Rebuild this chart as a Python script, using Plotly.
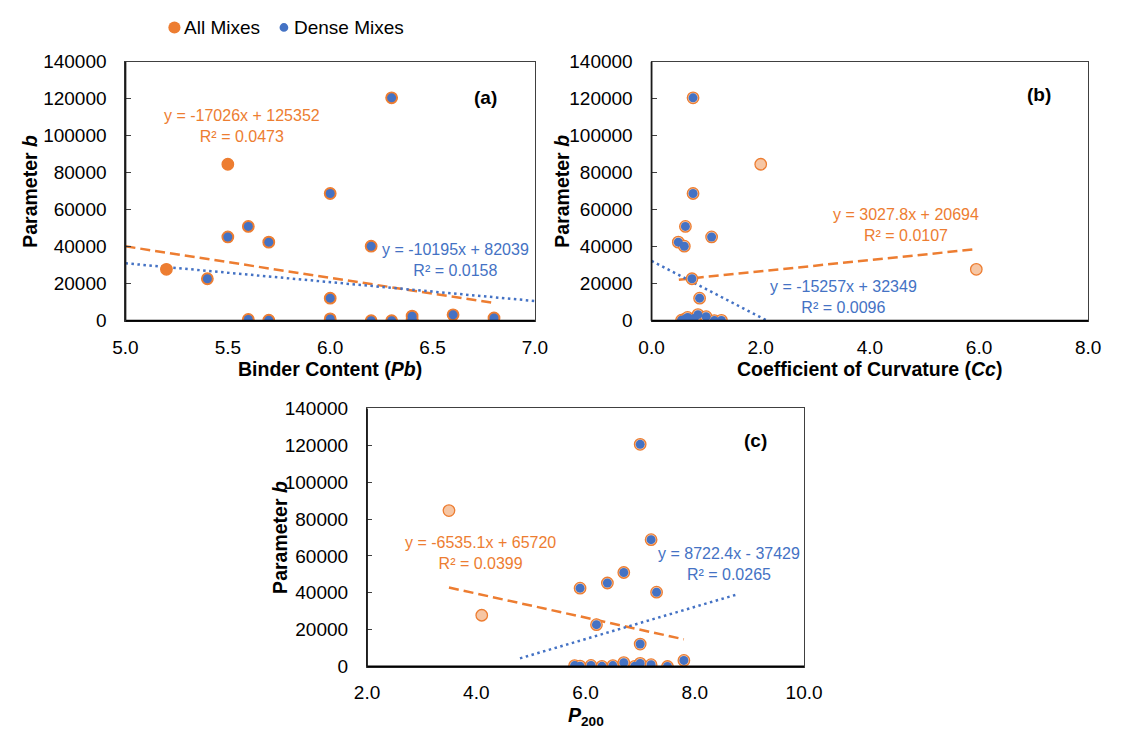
import plotly.graph_objects as go

ORANGE = "#ED7D31"
BLUE = "#4472C4"
PEACH = "#F6C6A4"

# ---------------- data ----------------
# Panel (a): binder content Pb
pb_dense = [5.4, 5.5, 5.6, 5.6, 5.7, 5.7, 6.0, 6.0, 6.0, 6.2, 6.2, 6.3, 6.3, 6.4, 6.4, 6.4, 6.4, 6.6, 6.8]
b_dense_a = [22700, 45300, 51000, 700, 42500, 300, 68800, 12200, 1000, 40300, 0, 120500, 0, 2500, 800, 0, 0, 3200, 1500]
pb_open = [5.5, 5.2]
b_open = [84600, 27800]

# Panel (b): coefficient of curvature Cc
cc_dense = [0.76, 0.76, 0.62, 1.10, 0.49, 0.60, 0.74, 0.88,
            0.55, 0.58, 0.62, 0.66, 0.69, 0.75, 0.78, 0.85, 1.00, 1.15, 1.28]
b_dense_b = [120500, 68800, 51000, 45300, 42500, 40300, 22700, 12200,
             300, 0, 1000, 1800, 500, 0, 1200, 3300, 2200, 100, 200]
cc_open = [2.0, 5.95]

# Panel (c): P200
p200_dense = [7.0, 7.2, 6.7, 6.4, 5.9, 7.3, 6.2, 7.0,
              5.8, 5.9, 6.1, 6.3, 6.5, 6.7, 6.9, 7.0, 7.2, 7.5, 7.8]
b_dense_c = [120500, 68800, 51000, 45300, 42500, 40300, 22700, 12200,
             500, 200, 600, 100, 500, 2100, 100, 1700, 1000, 0, 3300]
p200_open = [3.5, 4.1]

# Trendlines (slope, intercept, x-range) as printed on the chart
trend_all = {"a": (-17026, 125352, [5.0, 6.8]), "b": (3027.8, 20694, [0.5, 5.95]), "c": (-6535.1, 65720, [3.5, 7.8])}
trend_dense = {"a": (-10195, 82039, [5.0, 7.0]), "b": (-15257, 32349, [0.0, 2.12]), "c": (8722.4, -37429, [4.8, 8.8])}
eq_all = {"a": ("y = -17026x + 125352", "R² = 0.0473"), "b": ("y = 3027.8x + 20694", "R² = 0.0107"), "c": ("y = -6535.1x + 65720", "R² = 0.0399")}
eq_dense = {"a": ("y = -10195x + 82039", "R² = 0.0158"), "b": ("y = -15257x + 32349", "R² = 0.0096"), "c": ("y = 8722.4x - 37429", "R² = 0.0265")}

legend_labels = ["All Mixes", "Dense Mixes"]
y_title = "<b>Parameter <i>b</i></b>"
x_titles = {"a": "<b>Binder Content (<i>Pb</i>)</b>",
            "b": "<b>Coefficient of Curvature (<i>Cc</i>)</b>",
            "c": "<b><i>P</i><sub>200</sub></b>"}

FONT = "Liberation Sans, Arial, sans-serif"
W, H = 1125, 740

fig = go.Figure()

panels = [
    ("a", "x", "y", pb_dense, b_dense_a, pb_open, ORANGE),
    ("b", "x2", "y2", cc_dense, b_dense_b, cc_open, PEACH),
    ("c", "x3", "y3", p200_dense, b_dense_c, p200_open, PEACH),
]

for key, xa, ya, xd, yd, xo, open_fill in panels:
    m, c, xr = trend_all[key]
    fig.add_trace(go.Scatter(x=xr, y=[m * v + c for v in xr], mode="lines", xaxis=xa, yaxis=ya,
                             line=dict(color=ORANGE, width=2.5, dash="10px,5px"), showlegend=False, hoverinfo="skip"))
    m, c, xr = trend_dense[key]
    fig.add_trace(go.Scatter(x=xr, y=[m * v + c for v in xr], mode="lines", xaxis=xa, yaxis=ya,
                             line=dict(color=BLUE, width=2.5, dash="2.5px,3.5px"), showlegend=False, hoverinfo="skip"))
    fig.add_trace(go.Scatter(x=list(xo) + list(xd), y=list(b_open) + list(yd), mode="markers",
                             xaxis=xa, yaxis=ya, name=legend_labels[0], showlegend=False,
                             marker=dict(size=11.5, color=open_fill, line=dict(color=ORANGE, width=1.3))))
    fig.add_trace(go.Scatter(x=xd, y=yd, mode="markers", xaxis=xa, yaxis=ya, name=legend_labels[1],
                             showlegend=False, marker=dict(size=9, color=BLUE)))

axis_common = dict(showgrid=False, zeroline=False, showline=True, mirror=True, linecolor="#404040",
                   linewidth=1.2, tickfont=dict(family=FONT, size=19, color="#000"), ticks="")
yaxis_common = dict(axis_common, range=[0, 140000], dtick=20000, tickformat="d", ticks="inside",
                    ticklen=5, tickcolor="#404040", tickwidth=1, ticklabelstandoff=14)
xaxis_common = dict(axis_common, tickformat=".1f", ticklabelstandoff=9)

dom = {"a": ([0.1028, 0.4771], [0.5678, 0.928]),
       "b": ([0.5837, 0.9828], [0.5678, 0.928]),
       "c": ([0.3236, 0.7231], [0.0869, 0.4459])}

fig.update_layout(
    width=W, height=H, margin=dict(l=0, r=0, t=0, b=0),
    plot_bgcolor="white", paper_bgcolor="white",
    font=dict(family=FONT, size=19, color="#000"),
    showlegend=False,
    xaxis=dict(xaxis_common, domain=dom["a"][0], anchor="y", range=[5.0, 7.0], dtick=0.5),
    yaxis=dict(yaxis_common, domain=dom["a"][1], anchor="x"),
    xaxis2=dict(xaxis_common, domain=dom["b"][0], anchor="y2", range=[0, 8], dtick=2),
    yaxis2=dict(yaxis_common, domain=dom["b"][1], anchor="x2"),
    xaxis3=dict(xaxis_common, domain=dom["c"][0], anchor="y3", range=[2, 10], dtick=2),
    yaxis3=dict(yaxis_common, domain=dom["c"][1], anchor="x3"),
)

axes_of = {"a": ("x", "y"), "b": ("x2", "y2"), "c": ("x3", "y3")}

# thicker left and bottom axis lines
for xa, ya in axes_of.values():
    fig.add_shape(type="line", xref=xa + " domain", yref=ya + " domain", x0=0, x1=1, y0=0, y1=0,
                  line=dict(color="#000", width=2.2), layer="above")
    fig.add_shape(type="line", xref=xa + " domain", yref=ya + " domain", x0=0, x1=0, y0=0, y1=1,
                  line=dict(color="#1a1a1a", width=1.8), layer="above")

# axis titles (pixel positions from the reference layout)
ytitle_x = {"a": 18, "b": 565, "c": 275}
xtitle_y = {"a": 369, "b": 369, "c": 727}
for key in ["a", "b", "c"]:
    xdom, ydom = dom[key]
    fig.add_annotation(x=ytitle_x[key] / W, y=(ydom[0] + ydom[1]) / 2, xref="paper", yref="paper",
                       text=y_title, textangle=-90, showarrow=False, xanchor="center", yanchor="middle",
                       font=dict(family=FONT, size=19.5, color="#000"))
    fig.add_annotation(x=(xdom[0] + xdom[1]) / 2, y=1 - xtitle_y[key] / H, xref="paper", yref="paper",
                       text=x_titles[key], showarrow=False, xanchor="center", yanchor="middle",
                       font=dict(family=FONT, size=19.5, color="#000"))

# equation labels (data coords)
eq_pos_all = {"a": (5.57, 105400), "b": (4.66, 51700), "c": (4.08, 61600)}
eq_pos_dense = {"a": (6.61, 32700), "b": (3.51, 12700), "c": (8.62, 55800)}
for key in ["a", "b", "c"]:
    xa, ya = axes_of[key]
    for pos, eq, col in [(eq_pos_all[key], eq_all[key], ORANGE), (eq_pos_dense[key], eq_dense[key], BLUE)]:
        fig.add_annotation(x=pos[0], y=pos[1], xref=xa, yref=ya, text=eq[0] + "<br>" + eq[1],
                           showarrow=False, align="center", font=dict(family=FONT, size=16, color=col))

# panel labels
for key, fx, fy in [("a", 0.913, 0.911), ("b", 0.920, 0.920), ("c", 0.919, 0.925)]:
    xa, ya = axes_of[key]
    fig.add_annotation(x=fx, y=fy, xref=xa + " domain", yref=ya + " domain", text="<b>(" + key + ")</b>",
                       showarrow=False, font=dict(family=FONT, size=19, color="#000"))

# legend (top-left, drawn in paper coordinates)
leg_y = 18
for (cx, d, col), label, tx in [((166, 12.5, ORANGE), legend_labels[0], 174),
                                ((278.6, 9, BLUE), legend_labels[1], 287)]:
    fig.add_shape(type="circle", xref="paper", yref="paper",
                  x0=(cx - d / 2) / W, x1=(cx + d / 2) / W,
                  y0=1 - (leg_y + d / 2) / H, y1=1 - (leg_y - d / 2) / H,
                  fillcolor=col, line=dict(width=0))
    fig.add_annotation(x=tx / W, y=1 - leg_y / H, xref="paper", yref="paper", text=label,
                       xanchor="left", yanchor="middle", showarrow=False,
                       font=dict(family=FONT, size=19, color="#000"))

fig.write_html("out.html")
